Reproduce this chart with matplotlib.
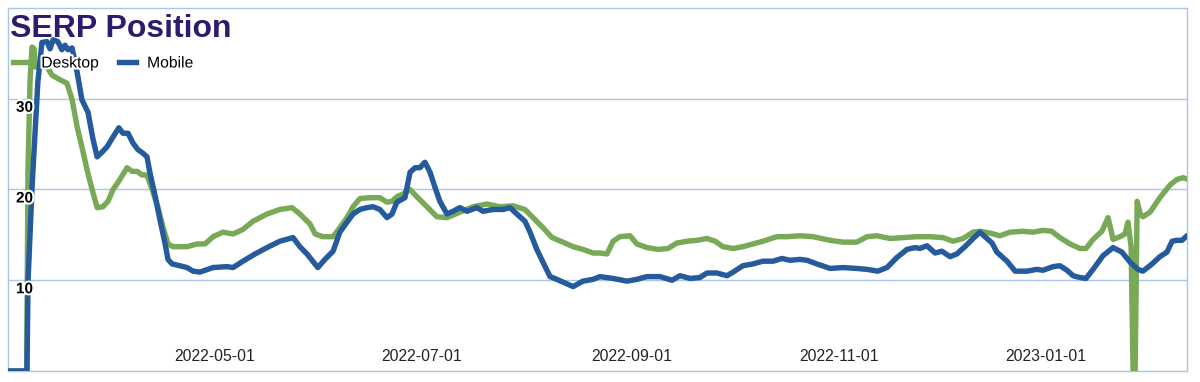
import pandas as pd
import matplotlib
matplotlib.use('Agg')
import matplotlib.pyplot as plt
import matplotlib.patheffects as pe
import matplotlib.transforms as mtransforms

plt.rcParams['font.family'] = ['Liberation Sans', 'DejaVu Sans']

start = pd.Timestamp('2022-03-01')
x_end_days = 347.8

# day offsets from 2022-03-01 and SERP position values
mobile_days = [0, 5.6, 5.9, 7.1, 8.8, 10.0, 11.5, 12.4, 13.3, 14.7, 15.9, 16.8, 17.7, 18.9,
               20.4, 21.8, 23.6, 25.1, 26.3, 27.7, 29.2, 31.0, 32.7, 33.9, 35.4, 36.9, 38.3,
               39.8, 41.0, 41.9, 43.4, 44.8, 46.3, 47.2, 48.4, 50.7, 52.8, 54.6, 56.6, 60.5,
               64.6, 66.4, 69.3, 72.9, 76.4, 80.2, 84.1, 86.1, 88.2, 91.4, 93.5, 95.9, 97.9,
               100.0, 101.8, 103.8, 105.9, 107.7, 109.7, 111.8, 113.3, 114.7, 117.1, 118.6,
               120.1, 121.5, 123.0, 124.5, 126.0, 127.4, 129.5, 131.3, 133.3, 135.4, 138.3,
               140.1, 143.1, 146.0, 148.1, 150.1, 152.5, 154.0, 156.0, 157.8, 159.9, 161.9,
               163.7, 166.7, 169.6, 172.6, 174.6, 178.5, 182.6, 185.5, 188.5, 192.3, 195.9,
               198.2, 201.2, 204.1, 206.2, 209.1, 212.1, 213.9, 216.8, 219.8, 222.7, 225.7,
               228.3, 230.7, 233.6, 235.7, 238.6, 242.5, 246.3, 250.4, 253.4, 256.6, 259.3,
               262.2, 265.2, 267.6, 269.0, 271.1, 273.5, 275.5, 277.9, 279.9, 282.3, 284.7,
               286.7, 288.8, 290.3, 291.7, 292.6, 294.7, 297.1, 300.6, 303.5, 305.3, 308.3,
               310.3, 312.4, 314.2, 316.2, 318.0, 320.1, 323.0, 326.0, 328.6, 331.0, 333.3,
               334.8, 337.5, 339.8, 341.9, 343.4, 344.8, 346.3, 347.5]
mobile = [0, 0, 9.8, 20.3, 31.8, 36.2, 36.3, 35.5, 36.5, 36.3, 35.4, 35.9, 35.4, 35.6,
          32.9, 29.9, 28.5, 25.5, 23.6, 24.1, 24.7, 25.8, 26.8, 26.2, 26.2, 25.1, 24.4,
          24.0, 23.6, 21.8, 19.3, 16.7, 14.1, 12.3, 11.8, 11.6, 11.4, 11.0, 10.9, 11.4,
          11.5, 11.4, 12.1, 12.9, 13.6, 14.3, 14.7, 13.7, 12.9, 11.4, 12.3, 13.2, 15.3,
          16.4, 17.3, 17.8, 18.0, 18.1, 17.8, 16.9, 17.3, 18.6, 19.1, 21.9,
          22.4, 22.4, 23.0, 21.9, 20.2, 18.7, 17.3, 17.6, 18.0, 17.6, 18.0,
          17.6, 17.8, 17.8, 18.0, 17.3, 16.5, 15.3, 13.4, 12.0, 10.4, 10.1,
          9.8, 9.3, 9.9, 10.1, 10.4, 10.2, 9.9, 10.1, 10.4, 10.4, 10.0,
          10.5, 10.2, 10.3, 10.8, 10.8, 10.5, 10.9, 11.6, 11.8, 12.1, 12.1,
          12.4, 12.2, 12.3, 12.2, 11.8, 11.3, 11.4, 11.3, 11.2, 11.0, 11.4,
          12.5, 13.4, 13.6, 13.5, 13.8, 13.0, 13.2, 12.6, 12.9, 13.7, 14.6,
          15.3, 14.6, 14.1, 13.1, 12.8, 12.1, 11.0, 11.0, 11.2, 11.1, 11.5,
          11.6, 11.1, 10.5, 10.3, 10.2, 11.2, 12.7, 13.6, 13.1, 12.0, 11.2,
          11.0, 11.8, 12.6, 13.1, 14.3, 14.4, 14.4, 14.8]

desktop_days = [0, 5.5, 5.9, 6.5, 7.1, 7.7, 8.0, 9.5, 11.5, 13.0, 15.3, 17.4, 18.9, 20.4,
                21.8, 23.3, 24.8, 26.3, 28.0, 29.5, 31.0, 33.0, 35.1, 36.6, 38.1, 39.5,
                41.0, 42.5, 44.2, 45.7, 47.2, 48.7, 50.7, 52.8, 55.8, 58.1, 60.5, 63.4,
                66.4, 69.3, 72.3, 76.4, 80.2, 83.8, 86.1, 89.1, 90.6, 92.9, 95.9, 97.9,
                100.0, 101.8, 103.8, 106.8, 109.7, 111.8, 113.3, 114.7, 116.5, 118.6,
                120.6, 123.6, 126.5, 129.5, 133.3, 137.2, 141.3, 145.1, 149.0, 152.5,
                154.9, 157.8, 160.5, 163.7, 166.7, 169.6, 172.6, 174.6, 176.7, 178.5,
                180.5, 183.5, 185.5, 188.5, 191.7, 194.7, 197.3, 200.3, 203.2, 206.2,
                208.6, 210.9, 213.9, 216.8, 219.8, 222.7, 226.8, 229.8, 233.6, 237.5,
                242.5, 246.3, 250.4, 253.4, 256.3, 260.2, 264.0, 268.1, 271.9, 275.8,
                278.8, 281.7, 284.7, 286.7, 289.7, 292.6, 295.6, 299.4, 302.4, 305.3,
                307.9, 310.3, 313.3, 316.2, 318.0, 320.1, 322.7, 324.5, 326.0, 328.0,
                329.5, 330.4, 331.3, 331.9, 332.5, 333.1, 334.0, 334.8, 336.9, 339.8,
                342.8, 344.8, 346.6, 347.5]
desktop = [0, 0, 22.0, 32.0, 35.7, 35.5, 33.5, 33.5, 33.5, 32.6, 32.1, 31.7, 29.9, 26.9,
           24.7, 22.2, 20.0, 18.0, 18.1, 18.7, 20.0, 21.1, 22.4, 22.0, 22.0, 21.6,
           21.6, 20.0, 18.1, 15.9, 14.0, 13.7, 13.7, 13.7, 14.0, 14.0, 14.8, 15.3,
           15.1, 15.6, 16.5, 17.3, 17.8, 18.0, 17.3, 16.2, 15.1, 14.8, 14.8, 15.8,
           16.9, 18.1, 19.0, 19.1, 19.1, 18.6, 18.7, 19.2, 19.5, 20.0,
           19.2, 18.1, 17.0, 16.9, 17.5, 18.1, 18.4, 18.1, 18.2, 17.8,
           16.9, 15.8, 14.7, 14.2, 13.7, 13.4, 13.0, 13.0, 12.9, 14.3,
           14.8, 14.9, 14.0, 13.6, 13.4, 13.5, 14.1, 14.3, 14.4, 14.6,
           14.3, 13.7, 13.5, 13.7, 14.0, 14.3, 14.8, 14.8, 14.9, 14.8,
           14.4, 14.2, 14.2, 14.8, 14.9, 14.6, 14.7, 14.8, 14.8, 14.7,
           14.3, 14.6, 15.3, 15.4, 15.2, 14.9, 15.3, 15.4, 15.3, 15.5,
           15.4, 14.7, 14.0, 13.5, 13.5, 14.5, 15.4, 16.9, 14.5, 14.8,
           15.1, 16.4, 13.7, 0, 0, 18.7, 17.3, 17.0, 17.5, 19.1,
           20.5, 21.1, 21.3, 21.2]

series_names = ['Desktop', 'Mobile']
colors = ['#77a956', '#255a9c']
y_ticks = [10, 20, 30]
x_ticks = ['2022-05-01', '2022-07-01', '2022-09-01', '2022-11-01', '2023-01-01']

grid_col = '#a9c5e8'
halo = [pe.withStroke(linewidth=3, foreground='white')]

fig = plt.figure(figsize=(12, 3.82), dpi=100)
ax = fig.add_axes([8 / 1200, 11 / 382, 1179 / 1200, 363 / 382])

d_dates = start + pd.to_timedelta(desktop_days, unit='D')
m_dates = start + pd.to_timedelta(mobile_days, unit='D')
ax.plot(d_dates, desktop, color=colors[0], lw=3.9, label=series_names[0],
        solid_joinstyle='round', zorder=3)
ax.plot(m_dates, mobile, color=colors[1], lw=3.9, label=series_names[1],
        solid_joinstyle='round', zorder=4)

ax.set_xlim(start, start + pd.Timedelta(days=x_end_days))
ax.set_ylim(0, 40)

for s in ax.spines.values():
    s.set_color(grid_col)
    s.set_linewidth(1)

ax.set_yticks(y_ticks)
ax.set_yticklabels([])
ax.tick_params(axis='y', length=0)
ax.grid(axis='y', color=grid_col, lw=1)

# y labels sit inside the plot just under each gridline
off = mtransforms.ScaledTranslation(0, -9 / 100, fig.dpi_scale_trans)
trans = mtransforms.blended_transform_factory(ax.transAxes, ax.transData) + off
for v in y_ticks:
    ax.text(25 / 1179, v, str(v), transform=trans, ha='right', va='center',
            fontsize=11, fontweight='bold', color='black', path_effects=halo, zorder=6)

ax.set_xticks(pd.to_datetime(x_ticks))
ax.set_xticklabels(x_ticks)
ax.tick_params(axis='x', length=0, pad=-15.5, labelsize=11.3, labelcolor='#222222')

fig.text(10 / 1200, 1 - 37 / 382, 'SERP Position', fontsize=23, fontweight='bold',
         color='#2e1b6e', va='baseline', ha='left', zorder=10)

leg = ax.legend(loc='center left', bbox_to_anchor=(13 / 1200, 1 - 63 / 382),
                bbox_transform=fig.transFigure, ncol=2, frameon=False, fontsize=11.3,
                handlelength=1.1, handletextpad=0.7, columnspacing=1.27,
                borderpad=0, borderaxespad=0)
for t in leg.get_texts():
    t.set_path_effects(halo)
leg.set_zorder(7)

fig.savefig('out.png', dpi=100)
